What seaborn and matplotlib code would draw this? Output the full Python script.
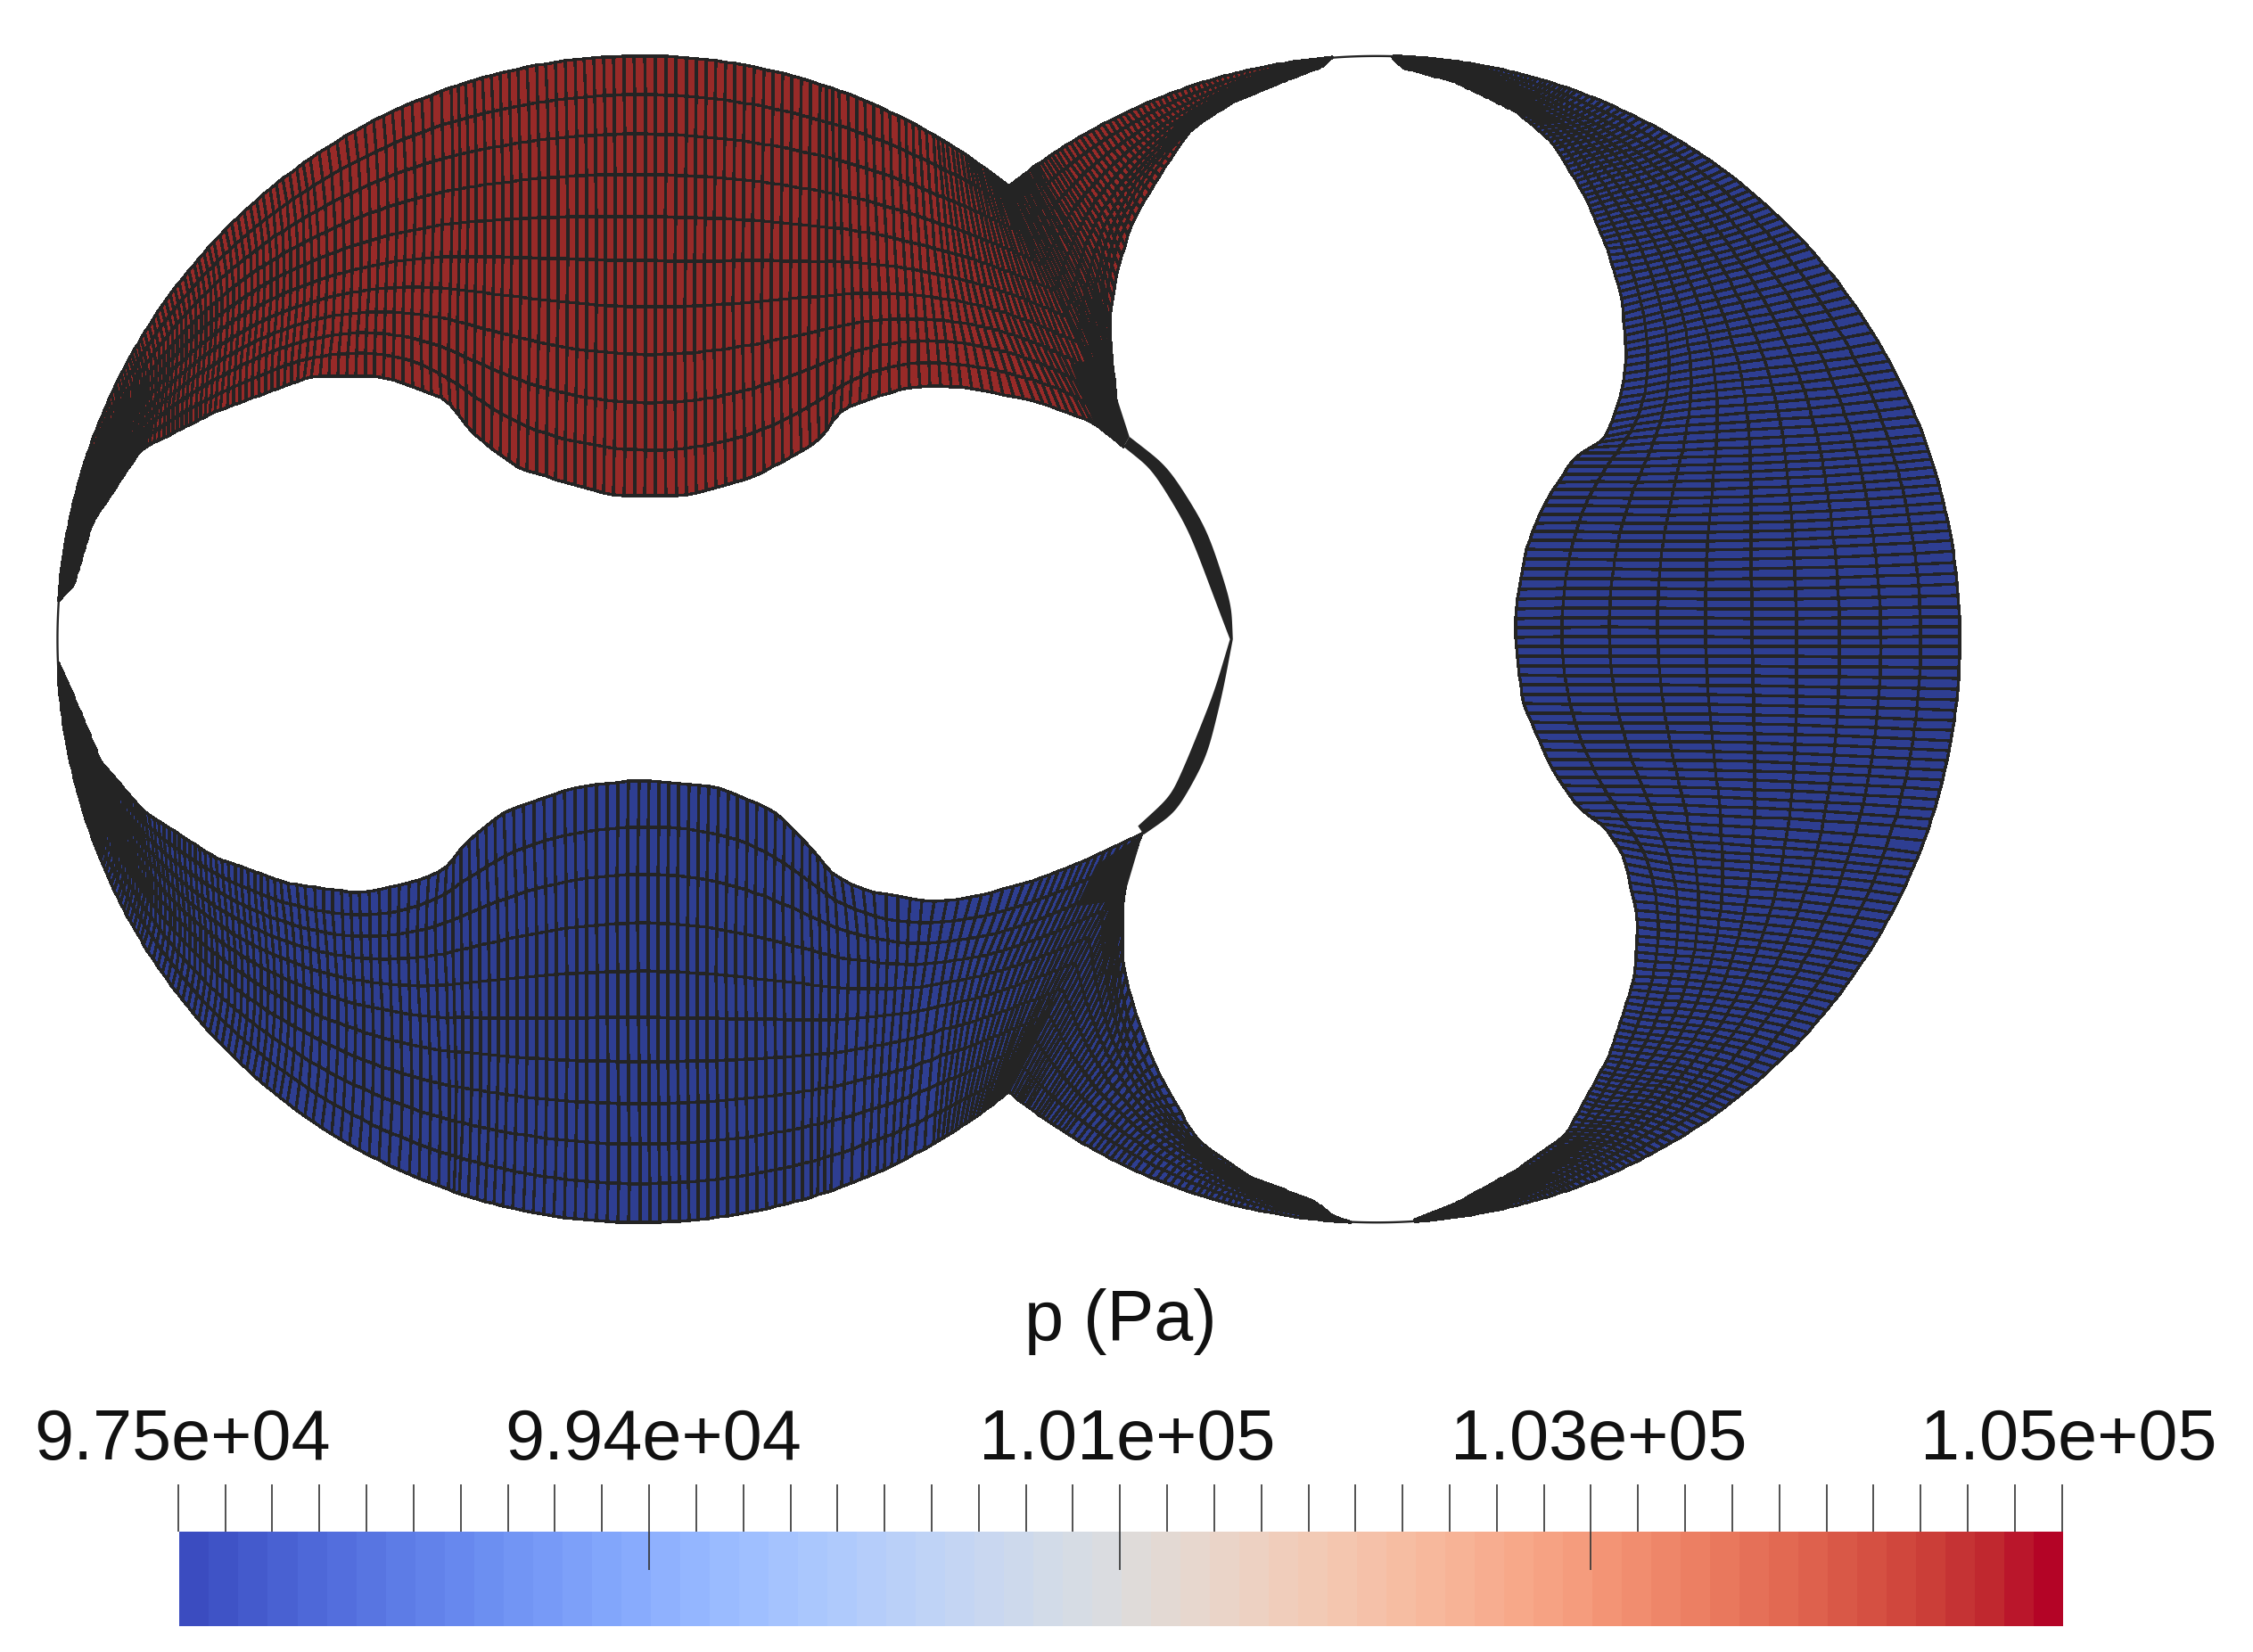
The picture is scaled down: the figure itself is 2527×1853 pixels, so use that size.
import matplotlib

matplotlib.use("Agg")
import matplotlib.pyplot as plt
import matplotlib.ticker as mticker
from matplotlib.transforms import ScaledTranslation
import numpy as np
import seaborn as sns

P_MIN = 97500
P_MAX = 105000
P_HIGH = 105000
P_LOW = 97500
MAJOR_TICKS = [97500, 99375, 101250, 103125, 105000]
MAJOR_LABELS = ["9.75e+04", "9.94e+04", "1.01e+05", "1.03e+05", "1.05e+05"]
INNER_MAJOR_TICKS = [99375, 101250, 103125]
TICK_STEP = 187.5
LABEL_OFFSET_PX = [5, 5, 8, 9, 8]
BAR_BANDS = 64

LEFT_CENTRE = (446, 445)
RIGHT_CENTRE = (958, 445)
HOUSING_RADIUS = 406

# upper part of the left rotor
TOP_LEFT_INNER = [
    (41, 418), (51, 408), (64, 364), (98, 313), (149, 287), (216, 262), (267, 262),
    (314, 279), (324, 298), (360, 326), (427, 345), (478, 345), (525, 332), (571, 307),
    (584, 285), (633, 269), (669, 269), (720, 279), (761, 294), (782, 311),
]
TOP_LEFT_OUTER_DEG = [
    176.0, 166.6, 160.2, 149.0, 137.0, 124.5, 116.2, 109.0, 107.5, 102.2, 92.7, 85.5,
    78.8, 72.1, 70.1, 63.8, 59.9, 56.2, 53.1, 50.9,
]
TOP_LEFT_SPACING = [2.5, 3, 3.5, 4.5, 5.5, 6.5, 7, 7, 7, 7, 7, 7, 7, 7, 7, 7, 6, 5, 4]

# lower part of the left rotor
BOTTOM_LEFT_INNER = [
    (41, 462), (56, 496), (70, 530), (100, 565), (150, 597), (200, 615), (250, 622),
    (285, 615), (312, 605), (320, 590), (350, 565), (400, 548), (445, 543), (500, 548),
    (540, 565), (565, 590), (578, 608), (600, 620), (650, 628), (676, 625), (720, 613),
    (753, 600), (795, 580),
]
BOTTOM_LEFT_OUTER_DEG = [
    -176.0, -163.9, -157.8, -148.4, -136.8, -127.3, -118.9, -113.4, -109.3, -108.1,
    -103.7, -96.5, -90.1, -82.4, -76.6, -73.0, -71.0, -67.7, -63.0, -59.9, -56.8,
    -53.8, -50.9,
]
BOTTOM_LEFT_SPACING = [
    2.5, 3, 4, 5, 5.5, 6.5, 7, 7, 7, 7, 7, 7, 7, 7, 7, 7, 7, 7, 7, 6, 5, 4,
]

# right rotor, upper left side
TOP_MID_INNER = [
    (782, 311), (776, 273), (772, 223), (778, 185), (790, 150), (807, 122), (828, 91),
    (856, 72), (892, 57), (921, 46), (927, 40),
]
TOP_MID_OUTER_DEG = [129.1, 127.3, 125.5, 123.3, 120.5, 117.3, 113.7, 108.4, 101.8, 96.1, 94.4]
TOP_MID_SPACING = [4, 5, 6, 6, 5.5, 5, 4, 3.5, 2.5, 2]

# right rotor, lower left side
BOTTOM_MID_INNER = [
    (795, 580), (788, 598), (781, 625), (781, 672), (793, 714), (807, 749), (833, 794),
    (869, 819), (914, 836), (930, 848), (940, 851),
]
BOTTOM_MID_OUTER_DEG = [
    -129.1, -128.0, -126.6, -124.5, -122.1, -119.5, -115.2, -108.4, -100.4, -94.7, -92.5,
]
BOTTOM_MID_SPACING = [4, 5, 6, 6.5, 6.5, 6, 5, 4, 2.5, 2]

# right rotor, right side
RIGHT_INNER = [
    (969, 40), (976, 47), (1013, 57), (1056, 78), (1081, 100), (1103, 136), (1120, 177),
    (1129, 208), (1132, 249), (1129, 271), (1122, 294), (1115, 309), (1099, 314),
    (1088, 330), (1074, 352), (1062, 382), (1055, 424), (1055, 450), (1060, 490),
    (1080, 535), (1100, 565), (1115, 573), (1130, 595), (1140, 640), (1138, 680),
    (1120, 735), (1090, 790), (1055, 815), (1013, 838), (985, 849),
]
RIGHT_OUTER_DEG = [
    88.4, 87, 80, 70, 64, 56, 47, 42, 34, 29.5, 25.5, 22.5, 20.5, 18, 14.5, 9.8, 3.2,
    -0.7, -7, -14, -19, -21.5, -25, -32, -38.5, -50, -62, -70, -80, -86.2,
]
RIGHT_SPACING = [
    2, 2.5, 3, 4, 4.5, 5, 5.5, 6, 6.5, 7, 7, 7, 7, 7, 7, 7, 7, 7, 7, 7, 7, 7, 7, 6.5,
    6, 5, 4, 3, 2,
]

# thin contact slivers between the two rotors, solid with mesh lines
UPPER_SLIVER_LEFT = [(782, 311), (802, 327), (827, 368), (848, 424), (856, 445)]
UPPER_SLIVER_RIGHT = [(786, 304), (813, 325), (840, 368), (857, 420), (858, 445)]
LOWER_SLIVER_LEFT = [(856, 445), (845, 482), (827, 527), (815, 554), (792, 575)]
LOWER_SLIVER_RIGHT = [(858, 445), (851, 482), (840, 527), (819, 565), (796, 581)]

# solid fans next to the pinch points
UPPER_WEDGE = [(745, 254), (761, 294), (782, 311), (786, 304), (776, 273), (772, 225), (768, 248)]
LOWER_WEDGE = [(749, 631), (763, 602), (795, 581), (782, 625), (781, 650), (770, 628)]

# thin housing arcs across the rotor tips
TIP_ARC_LEFT_DEG = [176.0, 184.0]
TIP_ARC_TOP_DEG = [94.4, 88.4]
TIP_ARC_BOTTOM_DEG = [-92.5, -86.2]

N_LAYERS = 10
LAYER_BLUR = 26
MESH_BLUE = "#2e3e92"
MESH_RED = "#982a28"
LINE_COLOR = "#242424"


def blur(values, sigma):
    radius = int(np.ceil(3 * sigma))
    kernel = np.exp(-0.5 * (np.arange(-radius, radius + 1) / sigma) ** 2)
    kernel /= kernel.sum()
    padded = np.pad(values, radius, mode="reflect", reflect_type="odd")
    return np.convolve(padded, kernel, mode="valid")


def build_band(inner, outer_deg, centre, spacing):
    """Structured mesh between the housing circle and a rotor contour."""
    inner = np.array(inner, dtype=float)
    outer_deg = np.array(outer_deg, dtype=float)
    knots = np.arange(len(inner))
    rad = np.radians(outer_deg)
    outer = np.column_stack(
        [
            centre[0] + HOUSING_RADIUS * np.cos(rad),
            centre[1] - HOUSING_RADIUS * np.sin(rad),
        ]
    )
    len_in = np.hypot(*np.diff(inner, axis=0).T)
    len_out = np.hypot(*np.diff(outer, axis=0).T)
    counts = np.maximum(1, np.round(0.5 * (len_in + len_out) / np.array(spacing))).astype(int)
    u = np.concatenate(
        [np.linspace(k, k + 1, n, endpoint=False) for k, n in zip(knots, counts)] + [[knots[-1]]]
    )
    ix = np.interp(u, knots, inner[:, 0])
    iy = np.interp(u, knots, inner[:, 1])
    theta = np.radians(np.interp(u, knots, outer_deg))
    ox = centre[0] + HOUSING_RADIUS * np.cos(theta)
    oy = centre[1] - HOUSING_RADIUS * np.sin(theta)

    xs, ys = [], []
    for s in np.linspace(0, 1, N_LAYERS + 1):
        sigma = 1.0 + LAYER_BLUR * (1 - s)
        xs.append(ox + s * (blur(ix, sigma) - ox))
        ys.append(oy + s * (blur(iy, sigma) - oy))
    return np.array(xs), np.array(ys)


def smooth_edge(points):
    points = np.array(points, dtype=float)
    knots = np.arange(len(points))
    u = np.linspace(0, len(points) - 1, 80)
    return (
        blur(np.interp(u, knots, points[:, 0]), 5),
        blur(np.interp(u, knots, points[:, 1]), 5),
    )


sns.set_theme(style="white")
plt.rcParams["font.family"] = ["Liberation Sans", "DejaVu Sans"]

fig = plt.figure(figsize=(25.27, 18.53), dpi=100, facecolor="white")
ax = fig.add_axes([0, 0, 1, 1])
ax.set_xlim(0, 1568)
ax.set_ylim(1150, 0)
ax.axis("off")

mesh_cmap = sns.blend_palette([MESH_BLUE, MESH_RED], as_cmap=True)
regions = [
    (TOP_LEFT_INNER, TOP_LEFT_OUTER_DEG, LEFT_CENTRE, TOP_LEFT_SPACING, P_HIGH),
    (TOP_MID_INNER, TOP_MID_OUTER_DEG, RIGHT_CENTRE, TOP_MID_SPACING, P_HIGH),
    (BOTTOM_LEFT_INNER, BOTTOM_LEFT_OUTER_DEG, LEFT_CENTRE, BOTTOM_LEFT_SPACING, P_LOW),
    (BOTTOM_MID_INNER, BOTTOM_MID_OUTER_DEG, RIGHT_CENTRE, BOTTOM_MID_SPACING, P_LOW),
    (RIGHT_INNER, RIGHT_OUTER_DEG, RIGHT_CENTRE, RIGHT_SPACING, P_LOW),
]
for inner, outer_deg, centre, spacing, pressure in regions:
    X, Y = build_band(inner, outer_deg, centre, spacing)
    ax.pcolormesh(
        X,
        Y,
        np.full((X.shape[0] - 1, X.shape[1] - 1), pressure),
        cmap=mesh_cmap,
        vmin=P_MIN,
        vmax=P_MAX,
        edgecolors=LINE_COLOR,
        linewidth=1.7,
        shading="flat",
    )

for left, right in ((UPPER_SLIVER_LEFT, UPPER_SLIVER_RIGHT), (LOWER_SLIVER_LEFT, LOWER_SLIVER_RIGHT)):
    lx, ly = smooth_edge(left)
    rx, ry = smooth_edge(right)
    ax.fill(np.r_[lx, rx[::-1]], np.r_[ly, ry[::-1]], color=LINE_COLOR, linewidth=0)
for wedge in (UPPER_WEDGE, LOWER_WEDGE):
    ax.fill(*zip(*wedge), color=LINE_COLOR, linewidth=0)

for arc_deg, centre in (
    (TIP_ARC_LEFT_DEG, LEFT_CENTRE),
    (TIP_ARC_TOP_DEG, RIGHT_CENTRE),
    (TIP_ARC_BOTTOM_DEG, RIGHT_CENTRE),
):
    theta = np.radians(np.linspace(arc_deg[0], arc_deg[1], 30))
    ax.plot(
        centre[0] + HOUSING_RADIUS * np.cos(theta),
        centre[1] - HOUSING_RADIUS * np.sin(theta),
        color=LINE_COLOR,
        linewidth=1.7,
    )

ax.text(780, 920, "p (Pa)", fontsize=57, color="#111111", ha="center", va="center")

# colour bar
bar_ax = fig.add_axes([125 / 1568, 1 - 1132 / 1150, 1311 / 1568, 66 / 1150])
sns.heatmap(
    np.linspace(P_MIN, P_MAX, BAR_BANDS).reshape(1, -1),
    cmap="coolwarm",
    vmin=P_MIN,
    vmax=P_MAX,
    cbar=False,
    xticklabels=False,
    yticklabels=False,
    ax=bar_ax,
)

tick_ax = fig.add_axes([124 / 1568, 1 - 1132 / 1150, 1311 / 1568, 66 / 1150], zorder=5)
tick_ax.patch.set_alpha(0)
tick_ax.set_xlim(P_MIN, P_MAX)
tick_ax.set_ylim(0, 1)
for spine in tick_ax.spines.values():
    spine.set_visible(False)
tick_ax.xaxis.tick_top()
tick_ax.xaxis.set_minor_locator(mticker.MultipleLocator(TICK_STEP))
tick_ax.set_xticks(MAJOR_TICKS)
tick_ax.set_xticklabels(MAJOR_LABELS, fontsize=57, color="#111111")
tick_ax.set_yticks([])
tick_ax.tick_params(axis="x", which="both", direction="out", length=38, width=1.2, color="#333333", top=True, bottom=False)
tick_ax.tick_params(axis="x", which="major", pad=8)
tick_ax.vlines(INNER_MAJOR_TICKS, 0.59, 1, color="#333333", linewidth=1.2)
for label, offset in zip(tick_ax.get_xticklabels(), LABEL_OFFSET_PX):
    label.set_transform(label.get_transform() + ScaledTranslation(offset / 100, 0, fig.dpi_scale_trans))

fig.savefig("out.png", dpi=100, facecolor="white")
